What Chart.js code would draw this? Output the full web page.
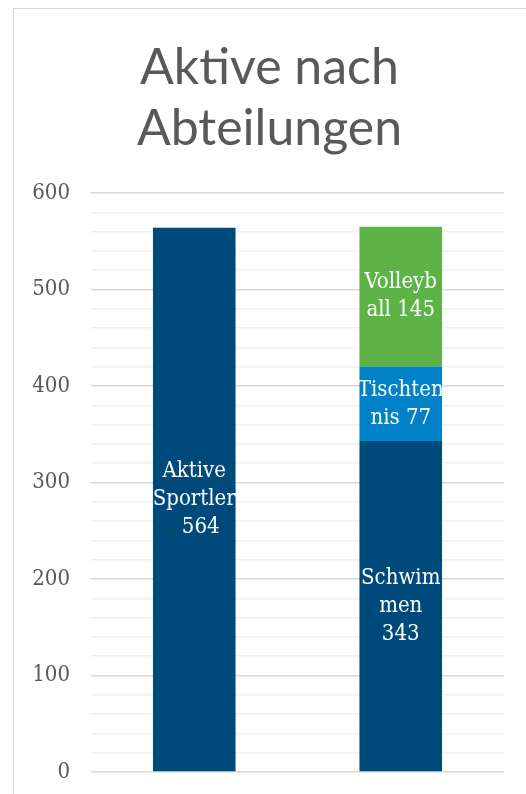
<!DOCTYPE html>
<html>
<head>
<meta charset="utf-8">
<script src="https://cdn.jsdelivr.net/npm/chart.js@4/dist/chart.umd.min.js"></script>
<style>
  html, body { margin: 0; padding: 0; background: #fff; overflow: hidden; }
  #box { position: absolute; left: 13px; top: 8px; width: 700px; height: 900px;
         border-left: 1.5px solid #d9d9d9; border-top: 1.5px solid #d9d9d9; }
  #wrap { position: absolute; left: 0; top: 0; width: 526px; height: 794px; }
</style>
</head>
<body>
<div id="box"></div>
<div id="wrap"><canvas id="myChart" width="526" height="794"></canvas></div>
<script>
// data
const categories = ['Aktive', 'Abteilungen'];
const seriesNames = ['Aktive Sportler', 'Schwimmen', 'Tischtennis', 'Volleyball'];
const aktiveValues = [564, null];
const schwimmenValues = [null, 343];
const tischtennisValues = [null, 77];
const volleyballValues = [null, 145];
const yTicks = [0, 100, 200, 300, 400, 500, 600];
// how Excel wrapped the labels, {v} = value
const labelLines = [
    ['Aktive', 'Sportler', '; {v}'],
    ['Schwim', 'men', '{v}'],
    ['Tischten', 'nis {v}'],
    ['Volleyb', 'all {v}']
];
const colors = ['#004a7b', '#004a7b', '#0081c8', '#5db346'];

const serif = "'DejaVu Serif', serif";

// white labels inside the bars
const barLabels = {
    id: 'barLabels',
    afterDatasetsDraw(chart) {
        const ctx = chart.ctx;
        ctx.save();
        ctx.font = 'condensed 22px ' + serif;
        ctx.textBaseline = 'middle';
        const lh = 28;
        chart.data.datasets.forEach((ds, i) => {
            const meta = chart.getDatasetMeta(i);
            meta.data.forEach((bar, j) => {
                const v = ds.data[j];
                if (v == null) return;
                const lines = labelLines[i].map(l => l.replace('{v}', v));
                const cy = (bar.y + bar.base) / 2;
                const y0 = cy - (lines.length - 1) * lh / 2;
                lines.forEach((line, k) => {
                    const y = y0 + k * lh;
                    if (line.startsWith(';')) {
                        // Excel left the separator dark
                        const w = ctx.measureText(line).width;
                        const wSep = ctx.measureText('; ').width;
                        ctx.textAlign = 'left';
                        ctx.fillStyle = '#3b3b3b';
                        ctx.fillText(';', bar.x - w / 2, y);
                        ctx.fillStyle = '#ffffff';
                        ctx.fillText(line.slice(2), bar.x - w / 2 + wSep, y);
                    } else {
                        ctx.textAlign = 'center';
                        ctx.fillStyle = '#ffffff';
                        ctx.fillText(line, bar.x, y);
                    }
                });
            });
        });
        ctx.restore();
    }
};

const allValues = [aktiveValues, schwimmenValues, tischtennisValues, volleyballValues];

new Chart(document.getElementById('myChart'), {
    type: 'bar',
    data: {
        labels: categories,
        datasets: seriesNames.map((name, i) => ({
            label: name,
            data: allValues[i],
            backgroundColor: colors[i],
            borderWidth: 0,
            categoryPercentage: 1,
            barPercentage: 0.4
        }))
    },
    options: {
        responsive: false,
        animation: false,
        layout: { padding: { left: 13, right: 0, top: 0, bottom: 22 } },
        plugins: {
            legend: { display: false },
            tooltip: { enabled: false },
            title: {
                display: true,
                text: ['Aktive nach', 'Abteilungen'],
                color: '#595959',
                font: { family: "Lato, sans-serif", size: 50, weight: 'normal', lineHeight: 1.22 },
                padding: { top: 37, bottom: 34 }
            }
        },
        scales: {
            x: {
                stacked: true,
                afterFit(scale) { scale.height = 0; },
                grid: { display: false },
                border: { display: false },
                ticks: { display: false }
            },
            y: {
                stacked: true,
                min: 0,
                max: 600,
                afterFit(scale) {
                    scale.width = 78;
                    scale.paddingTop = 0;
                    scale.paddingBottom = 0;
                },
                border: { display: false },
                grid: {
                    drawTicks: false,
                    lineWidth: 1.5,
                    color: c => (c.tick && c.tick.value % 100 === 0) ? '#d9d9d9' : '#f0f0f0'
                },
                ticks: {
                    stepSize: 20,
                    autoSkip: false,
                    padding: 21,
                    color: '#595959',
                    font: { family: serif, size: 22, weight: 'condensed' },
                    callback: v => yTicks.includes(v) ? v : ''
                }
            },
            y2: {
                position: 'right',
                afterFit(scale) {
                    scale.width = 22;
                    scale.paddingTop = 0;
                    scale.paddingBottom = 0;
                },
                grid: { display: false },
                border: { display: false },
                ticks: { display: false }
            }
        }
    },
    plugins: [barLabels]
});
</script>
</body>
</html>
